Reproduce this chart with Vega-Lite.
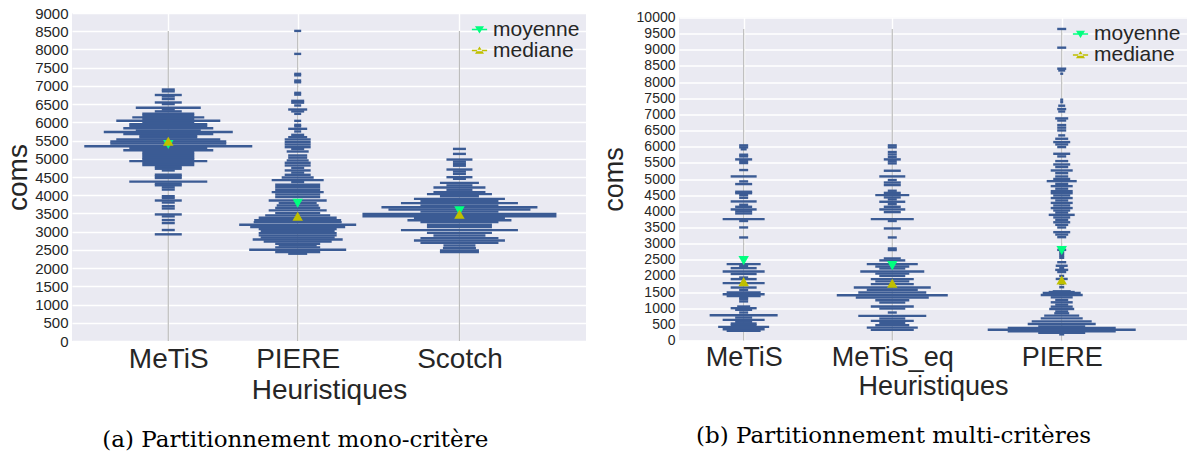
{
  "$schema": "https://vega.github.io/schema/vega-lite/v6.json",
  "background": "white",
  "padding": {"left": 4, "top": 6, "right": 0, "bottom": 0},
  "spacing": 14,
  "center": true,
  "config": {
    "view": {"fill": "#EAEAF2", "stroke": null},
    "axis": {"domain": false, "ticks": false, "gridColor": "white", "gridWidth": 1.4, "labelFont": "Liberation Sans", "titleFont": "Liberation Sans", "labelColor": "#262626", "titleColor": "#262626", "titleFontWeight": "normal", "labelOverlap": false, "labelFlush": false},
    "title": {"font": "DejaVu Serif", "fontSize": 23, "fontWeight": "normal", "color": "black", "orient": "bottom", "anchor": "middle", "frame": "bounds"},
    "legend": {"orient": "top-right", "offset": 3, "labelFont": "Liberation Sans", "labelFontSize": 21, "labelColor": "#262626", "symbolSize": 110, "symbolOpacity": 1, "symbolStrokeWidth": 0, "rowPadding": -2, "padding": 3, "labelOffset": 3}
  },
  "datasets": {
    "catsA": [{"h": "MeTiS", "pos": 1}, {"h": "PIERE", "pos": 2}, {"h": "Scotch", "pos": 3.25}],
    "catsB": [{"h": "MeTiS", "pos": 1}, {"h": "MeTiS_eq", "pos": 2}, {"h": "PIERE", "pos": 3.14}],
    "beansA": [
      {"h": "MeTiS", "v": 6900, "dens": 13}, {"h": "MeTiS", "v": 6850, "dens": 13}, {"h": "MeTiS", "v": 6750, "dens": 27}, {"h": "MeTiS", "v": 6710, "dens": 13}, {"h": "MeTiS", "v": 6640, "dens": 13}, {"h": "MeTiS", "v": 6545, "dens": 27}, {"h": "MeTiS", "v": 6500, "dens": 13}, {"h": "MeTiS", "v": 6400, "dens": 65}, {"h": "MeTiS", "v": 6350, "dens": 13}, {"h": "MeTiS", "v": 6300, "dens": 27}, {"h": "MeTiS", "v": 6235, "dens": 52}, {"h": "MeTiS", "v": 6180, "dens": 52}, {"h": "MeTiS", "v": 6136, "dens": 72}, {"h": "MeTiS", "v": 6090, "dens": 52}, {"h": "MeTiS", "v": 6045, "dens": 104}, {"h": "MeTiS", "v": 6000, "dens": 52}, {"h": "MeTiS", "v": 5950, "dens": 78}, {"h": "MeTiS", "v": 5900, "dens": 78}, {"h": "MeTiS", "v": 5836, "dens": 90}, {"h": "MeTiS", "v": 5780, "dens": 65}, {"h": "MeTiS", "v": 5736, "dens": 129}, {"h": "MeTiS", "v": 5680, "dens": 90}, {"h": "MeTiS", "v": 5630, "dens": 58}, {"h": "MeTiS", "v": 5580, "dens": 58}, {"h": "MeTiS", "v": 5527, "dens": 104}, {"h": "MeTiS", "v": 5473, "dens": 116}, {"h": "MeTiS", "v": 5420, "dens": 116}, {"h": "MeTiS", "v": 5345, "dens": 168}, {"h": "MeTiS", "v": 5290, "dens": 78}, {"h": "MeTiS", "v": 5236, "dens": 90}, {"h": "MeTiS", "v": 5180, "dens": 52}, {"h": "MeTiS", "v": 5127, "dens": 52}, {"h": "MeTiS", "v": 5075, "dens": 52}, {"h": "MeTiS", "v": 5020, "dens": 52}, {"h": "MeTiS", "v": 4980, "dens": 52}, {"h": "MeTiS", "v": 4936, "dens": 78}, {"h": "MeTiS", "v": 4880, "dens": 52}, {"h": "MeTiS", "v": 4830, "dens": 52}, {"h": "MeTiS", "v": 4780, "dens": 27}, {"h": "MeTiS", "v": 4727, "dens": 27}, {"h": "MeTiS", "v": 4680, "dens": 13}, {"h": "MeTiS", "v": 4564, "dens": 27}, {"h": "MeTiS", "v": 4520, "dens": 27}, {"h": "MeTiS", "v": 4473, "dens": 27}, {"h": "MeTiS", "v": 4373, "dens": 78}, {"h": "MeTiS", "v": 4320, "dens": 27}, {"h": "MeTiS", "v": 4273, "dens": 27}, {"h": "MeTiS", "v": 4218, "dens": 13}, {"h": "MeTiS", "v": 4155, "dens": 13}, {"h": "MeTiS", "v": 3973, "dens": 13}, {"h": "MeTiS", "v": 3920, "dens": 13}, {"h": "MeTiS", "v": 3855, "dens": 27}, {"h": "MeTiS", "v": 3800, "dens": 13}, {"h": "MeTiS", "v": 3700, "dens": 13}, {"h": "MeTiS", "v": 3636, "dens": 13}, {"h": "MeTiS", "v": 3473, "dens": 27}, {"h": "MeTiS", "v": 3420, "dens": 13}, {"h": "MeTiS", "v": 3318, "dens": 13}, {"h": "MeTiS", "v": 3236, "dens": 13}, {"h": "MeTiS", "v": 3045, "dens": 13}, {"h": "MeTiS", "v": 2927, "dens": 27},
      {"h": "PIERE", "v": 8509, "dens": 7}, {"h": "PIERE", "v": 7878, "dens": 7}, {"h": "PIERE", "v": 7330, "dens": 7}, {"h": "PIERE", "v": 7290, "dens": 7}, {"h": "PIERE", "v": 7147, "dens": 7}, {"h": "PIERE", "v": 7100, "dens": 7}, {"h": "PIERE", "v": 6809, "dens": 7}, {"h": "PIERE", "v": 6760, "dens": 7}, {"h": "PIERE", "v": 6590, "dens": 13}, {"h": "PIERE", "v": 6540, "dens": 13}, {"h": "PIERE", "v": 6462, "dens": 7}, {"h": "PIERE", "v": 6352, "dens": 19}, {"h": "PIERE", "v": 6300, "dens": 13}, {"h": "PIERE", "v": 6233, "dens": 7}, {"h": "PIERE", "v": 6041, "dens": 7}, {"h": "PIERE", "v": 5931, "dens": 7}, {"h": "PIERE", "v": 5890, "dens": 7}, {"h": "PIERE", "v": 5822, "dens": 19}, {"h": "PIERE", "v": 5750, "dens": 7}, {"h": "PIERE", "v": 5657, "dens": 13}, {"h": "PIERE", "v": 5593, "dens": 19}, {"h": "PIERE", "v": 5530, "dens": 26}, {"h": "PIERE", "v": 5456, "dens": 26}, {"h": "PIERE", "v": 5390, "dens": 26}, {"h": "PIERE", "v": 5319, "dens": 26}, {"h": "PIERE", "v": 5270, "dens": 13}, {"h": "PIERE", "v": 5200, "dens": 22}, {"h": "PIERE", "v": 5091, "dens": 19}, {"h": "PIERE", "v": 5030, "dens": 19}, {"h": "PIERE", "v": 4954, "dens": 22}, {"h": "PIERE", "v": 4890, "dens": 26}, {"h": "PIERE", "v": 4817, "dens": 26}, {"h": "PIERE", "v": 4750, "dens": 13}, {"h": "PIERE", "v": 4680, "dens": 26}, {"h": "PIERE", "v": 4620, "dens": 13}, {"h": "PIERE", "v": 4560, "dens": 26}, {"h": "PIERE", "v": 4488, "dens": 32}, {"h": "PIERE", "v": 4414, "dens": 52}, {"h": "PIERE", "v": 4360, "dens": 13}, {"h": "PIERE", "v": 4286, "dens": 45}, {"h": "PIERE", "v": 4220, "dens": 45}, {"h": "PIERE", "v": 4149, "dens": 45}, {"h": "PIERE", "v": 4085, "dens": 52}, {"h": "PIERE", "v": 4020, "dens": 45}, {"h": "PIERE", "v": 3948, "dens": 45}, {"h": "PIERE", "v": 3857, "dens": 58}, {"h": "PIERE", "v": 3784, "dens": 38}, {"h": "PIERE", "v": 3720, "dens": 42}, {"h": "PIERE", "v": 3650, "dens": 45}, {"h": "PIERE", "v": 3583, "dens": 58}, {"h": "PIERE", "v": 3510, "dens": 45}, {"h": "PIERE", "v": 3446, "dens": 65}, {"h": "PIERE", "v": 3382, "dens": 78}, {"h": "PIERE", "v": 3318, "dens": 87}, {"h": "PIERE", "v": 3263, "dens": 88}, {"h": "PIERE", "v": 3190, "dens": 117}, {"h": "PIERE", "v": 3126, "dens": 95}, {"h": "PIERE", "v": 3075, "dens": 78}, {"h": "PIERE", "v": 3025, "dens": 74}, {"h": "PIERE", "v": 2960, "dens": 78}, {"h": "PIERE", "v": 2897, "dens": 78}, {"h": "PIERE", "v": 2840, "dens": 74}, {"h": "PIERE", "v": 2787, "dens": 90}, {"h": "PIERE", "v": 2730, "dens": 68}, {"h": "PIERE", "v": 2669, "dens": 45}, {"h": "PIERE", "v": 2620, "dens": 38}, {"h": "PIERE", "v": 2568, "dens": 45}, {"h": "PIERE", "v": 2504, "dens": 97}, {"h": "PIERE", "v": 2440, "dens": 45}, {"h": "PIERE", "v": 2395, "dens": 19},
      {"h": "Scotch", "v": 5271, "dens": 13}, {"h": "Scotch", "v": 5134, "dens": 13}, {"h": "Scotch", "v": 4979, "dens": 26}, {"h": "Scotch", "v": 4920, "dens": 13}, {"h": "Scotch", "v": 4860, "dens": 13}, {"h": "Scotch", "v": 4810, "dens": 13}, {"h": "Scotch", "v": 4705, "dens": 26}, {"h": "Scotch", "v": 4650, "dens": 13}, {"h": "Scotch", "v": 4586, "dens": 13}, {"h": "Scotch", "v": 4495, "dens": 26}, {"h": "Scotch", "v": 4450, "dens": 13}, {"h": "Scotch", "v": 4339, "dens": 39}, {"h": "Scotch", "v": 4270, "dens": 26}, {"h": "Scotch", "v": 4211, "dens": 52}, {"h": "Scotch", "v": 4150, "dens": 26}, {"h": "Scotch", "v": 4083, "dens": 52}, {"h": "Scotch", "v": 4029, "dens": 65}, {"h": "Scotch", "v": 3970, "dens": 39}, {"h": "Scotch", "v": 3900, "dens": 91}, {"h": "Scotch", "v": 3840, "dens": 78}, {"h": "Scotch", "v": 3782, "dens": 117}, {"h": "Scotch", "v": 3720, "dens": 78}, {"h": "Scotch", "v": 3672, "dens": 156}, {"h": "Scotch", "v": 3608, "dens": 142}, {"h": "Scotch", "v": 3550, "dens": 78}, {"h": "Scotch", "v": 3489, "dens": 194}, {"h": "Scotch", "v": 3425, "dens": 194}, {"h": "Scotch", "v": 3370, "dens": 91}, {"h": "Scotch", "v": 3315, "dens": 104}, {"h": "Scotch", "v": 3261, "dens": 78}, {"h": "Scotch", "v": 3188, "dens": 65}, {"h": "Scotch", "v": 3130, "dens": 65}, {"h": "Scotch", "v": 3041, "dens": 117}, {"h": "Scotch", "v": 2968, "dens": 65}, {"h": "Scotch", "v": 2895, "dens": 52}, {"h": "Scotch", "v": 2822, "dens": 78}, {"h": "Scotch", "v": 2758, "dens": 91}, {"h": "Scotch", "v": 2694, "dens": 78}, {"h": "Scotch", "v": 2621, "dens": 32}, {"h": "Scotch", "v": 2548, "dens": 33}, {"h": "Scotch", "v": 2484, "dens": 39}, {"h": "Scotch", "v": 2438, "dens": 39}
    ],
    "statsA": [
      {"h": "MeTiS", "stat": "moyenne", "v": 5390}, {"h": "MeTiS", "stat": "mediane", "v": 5480},
      {"h": "PIERE", "stat": "moyenne", "v": 3782}, {"h": "PIERE", "stat": "mediane", "v": 3425},
      {"h": "Scotch", "stat": "moyenne", "v": 3571}, {"h": "Scotch", "stat": "mediane", "v": 3480}
    ],
    "beansB": [
      {"h": "MeTiS", "v": 6041, "dens": 9}, {"h": "MeTiS", "v": 5980, "dens": 9}, {"h": "MeTiS", "v": 5920, "dens": 6}, {"h": "MeTiS", "v": 5752, "dens": 9}, {"h": "MeTiS", "v": 5700, "dens": 9}, {"h": "MeTiS", "v": 5607, "dens": 17}, {"h": "MeTiS", "v": 5550, "dens": 9}, {"h": "MeTiS", "v": 5494, "dens": 9}, {"h": "MeTiS", "v": 5277, "dens": 9}, {"h": "MeTiS", "v": 5080, "dens": 26}, {"h": "MeTiS", "v": 4925, "dens": 9}, {"h": "MeTiS", "v": 4843, "dens": 17}, {"h": "MeTiS", "v": 4605, "dens": 17}, {"h": "MeTiS", "v": 4560, "dens": 17}, {"h": "MeTiS", "v": 4500, "dens": 9}, {"h": "MeTiS", "v": 4419, "dens": 9}, {"h": "MeTiS", "v": 4305, "dens": 26}, {"h": "MeTiS", "v": 4202, "dens": 9}, {"h": "MeTiS", "v": 4140, "dens": 17}, {"h": "MeTiS", "v": 4058, "dens": 26}, {"h": "MeTiS", "v": 4000, "dens": 17}, {"h": "MeTiS", "v": 3934, "dens": 17}, {"h": "MeTiS", "v": 3758, "dens": 42}, {"h": "MeTiS", "v": 3700, "dens": 9}, {"h": "MeTiS", "v": 3500, "dens": 9}, {"h": "MeTiS", "v": 3190, "dens": 9}, {"h": "MeTiS", "v": 2364, "dens": 34}, {"h": "MeTiS", "v": 2300, "dens": 9}, {"h": "MeTiS", "v": 2240, "dens": 26}, {"h": "MeTiS", "v": 2136, "dens": 42}, {"h": "MeTiS", "v": 2060, "dens": 26}, {"h": "MeTiS", "v": 1950, "dens": 9}, {"h": "MeTiS", "v": 1900, "dens": 26}, {"h": "MeTiS", "v": 1775, "dens": 42}, {"h": "MeTiS", "v": 1640, "dens": 26}, {"h": "MeTiS", "v": 1560, "dens": 9}, {"h": "MeTiS", "v": 1485, "dens": 34}, {"h": "MeTiS", "v": 1434, "dens": 42}, {"h": "MeTiS", "v": 1380, "dens": 34}, {"h": "MeTiS", "v": 1330, "dens": 9}, {"h": "MeTiS", "v": 1280, "dens": 9}, {"h": "MeTiS", "v": 1210, "dens": 9}, {"h": "MeTiS", "v": 1052, "dens": 13}, {"h": "MeTiS", "v": 1000, "dens": 26}, {"h": "MeTiS", "v": 950, "dens": 17}, {"h": "MeTiS", "v": 866, "dens": 9}, {"h": "MeTiS", "v": 783, "dens": 68}, {"h": "MeTiS", "v": 710, "dens": 17}, {"h": "MeTiS", "v": 638, "dens": 42}, {"h": "MeTiS", "v": 580, "dens": 17}, {"h": "MeTiS", "v": 525, "dens": 26}, {"h": "MeTiS", "v": 473, "dens": 26}, {"h": "MeTiS", "v": 421, "dens": 51}, {"h": "MeTiS", "v": 350, "dens": 42}, {"h": "MeTiS", "v": 300, "dens": 34},
      {"h": "MeTiS_eq", "v": 6041, "dens": 9}, {"h": "MeTiS_eq", "v": 5980, "dens": 9}, {"h": "MeTiS_eq", "v": 5835, "dens": 9}, {"h": "MeTiS_eq", "v": 5760, "dens": 9}, {"h": "MeTiS_eq", "v": 5680, "dens": 9}, {"h": "MeTiS_eq", "v": 5607, "dens": 17}, {"h": "MeTiS_eq", "v": 5550, "dens": 9}, {"h": "MeTiS_eq", "v": 5483, "dens": 9}, {"h": "MeTiS_eq", "v": 5256, "dens": 17}, {"h": "MeTiS_eq", "v": 5080, "dens": 26}, {"h": "MeTiS_eq", "v": 4967, "dens": 9}, {"h": "MeTiS_eq", "v": 4890, "dens": 17}, {"h": "MeTiS_eq", "v": 4812, "dens": 17}, {"h": "MeTiS_eq", "v": 4636, "dens": 9}, {"h": "MeTiS_eq", "v": 4570, "dens": 17}, {"h": "MeTiS_eq", "v": 4502, "dens": 34}, {"h": "MeTiS_eq", "v": 4430, "dens": 17}, {"h": "MeTiS_eq", "v": 4368, "dens": 9}, {"h": "MeTiS_eq", "v": 4295, "dens": 26}, {"h": "MeTiS_eq", "v": 4220, "dens": 9}, {"h": "MeTiS_eq", "v": 4140, "dens": 17}, {"h": "MeTiS_eq", "v": 4058, "dens": 26}, {"h": "MeTiS_eq", "v": 3975, "dens": 17}, {"h": "MeTiS_eq", "v": 3758, "dens": 43}, {"h": "MeTiS_eq", "v": 3700, "dens": 9}, {"h": "MeTiS_eq", "v": 3469, "dens": 17}, {"h": "MeTiS_eq", "v": 3190, "dens": 9}, {"h": "MeTiS_eq", "v": 2850, "dens": 9}, {"h": "MeTiS_eq", "v": 2800, "dens": 9}, {"h": "MeTiS_eq", "v": 2540, "dens": 17}, {"h": "MeTiS_eq", "v": 2480, "dens": 26}, {"h": "MeTiS_eq", "v": 2364, "dens": 51}, {"h": "MeTiS_eq", "v": 2290, "dens": 34}, {"h": "MeTiS_eq", "v": 2230, "dens": 26}, {"h": "MeTiS_eq", "v": 2136, "dens": 64}, {"h": "MeTiS_eq", "v": 2070, "dens": 34}, {"h": "MeTiS_eq", "v": 2000, "dens": 26}, {"h": "MeTiS_eq", "v": 1900, "dens": 43}, {"h": "MeTiS_eq", "v": 1830, "dens": 34}, {"h": "MeTiS_eq", "v": 1744, "dens": 43}, {"h": "MeTiS_eq", "v": 1640, "dens": 77}, {"h": "MeTiS_eq", "v": 1570, "dens": 51}, {"h": "MeTiS_eq", "v": 1485, "dens": 68}, {"h": "MeTiS_eq", "v": 1403, "dens": 111}, {"h": "MeTiS_eq", "v": 1330, "dens": 73}, {"h": "MeTiS_eq", "v": 1248, "dens": 34}, {"h": "MeTiS_eq", "v": 1176, "dens": 26}, {"h": "MeTiS_eq", "v": 1052, "dens": 43}, {"h": "MeTiS_eq", "v": 990, "dens": 26}, {"h": "MeTiS_eq", "v": 866, "dens": 9}, {"h": "MeTiS_eq", "v": 762, "dens": 68}, {"h": "MeTiS_eq", "v": 680, "dens": 26}, {"h": "MeTiS_eq", "v": 607, "dens": 43}, {"h": "MeTiS_eq", "v": 540, "dens": 26}, {"h": "MeTiS_eq", "v": 473, "dens": 34}, {"h": "MeTiS_eq", "v": 400, "dens": 51}, {"h": "MeTiS_eq", "v": 328, "dens": 43},
      {"h": "PIERE", "v": 9645, "dens": 9}, {"h": "PIERE", "v": 9066, "dens": 9}, {"h": "PIERE", "v": 8415, "dens": 9}, {"h": "PIERE", "v": 8360, "dens": 7}, {"h": "PIERE", "v": 8260, "dens": 3}, {"h": "PIERE", "v": 7455, "dens": 3}, {"h": "PIERE", "v": 7380, "dens": 3}, {"h": "PIERE", "v": 7269, "dens": 7}, {"h": "PIERE", "v": 7165, "dens": 9}, {"h": "PIERE", "v": 7090, "dens": 7}, {"h": "PIERE", "v": 6876, "dens": 13}, {"h": "PIERE", "v": 6810, "dens": 9}, {"h": "PIERE", "v": 6670, "dens": 9}, {"h": "PIERE", "v": 6590, "dens": 9}, {"h": "PIERE", "v": 6504, "dens": 9}, {"h": "PIERE", "v": 6350, "dens": 7}, {"h": "PIERE", "v": 6246, "dens": 13}, {"h": "PIERE", "v": 6143, "dens": 17}, {"h": "PIERE", "v": 6070, "dens": 13}, {"h": "PIERE", "v": 5988, "dens": 9}, {"h": "PIERE", "v": 5781, "dens": 17}, {"h": "PIERE", "v": 5700, "dens": 9}, {"h": "PIERE", "v": 5554, "dens": 13}, {"h": "PIERE", "v": 5450, "dens": 17}, {"h": "PIERE", "v": 5370, "dens": 13}, {"h": "PIERE", "v": 5264, "dens": 22}, {"h": "PIERE", "v": 5180, "dens": 13}, {"h": "PIERE", "v": 5078, "dens": 13}, {"h": "PIERE", "v": 5000, "dens": 17}, {"h": "PIERE", "v": 4934, "dens": 30}, {"h": "PIERE", "v": 4850, "dens": 13}, {"h": "PIERE", "v": 4779, "dens": 22}, {"h": "PIERE", "v": 4700, "dens": 13}, {"h": "PIERE", "v": 4624, "dens": 22}, {"h": "PIERE", "v": 4560, "dens": 22}, {"h": "PIERE", "v": 4490, "dens": 17}, {"h": "PIERE", "v": 4410, "dens": 22}, {"h": "PIERE", "v": 4335, "dens": 13}, {"h": "PIERE", "v": 4260, "dens": 22}, {"h": "PIERE", "v": 4180, "dens": 17}, {"h": "PIERE", "v": 4100, "dens": 22}, {"h": "PIERE", "v": 4025, "dens": 17}, {"h": "PIERE", "v": 3960, "dens": 13}, {"h": "PIERE", "v": 3890, "dens": 26}, {"h": "PIERE", "v": 3810, "dens": 17}, {"h": "PIERE", "v": 3736, "dens": 13}, {"h": "PIERE", "v": 3660, "dens": 17}, {"h": "PIERE", "v": 3581, "dens": 13}, {"h": "PIERE", "v": 3500, "dens": 9}, {"h": "PIERE", "v": 3354, "dens": 17}, {"h": "PIERE", "v": 3280, "dens": 13}, {"h": "PIERE", "v": 3199, "dens": 9}, {"h": "PIERE", "v": 2806, "dens": 9}, {"h": "PIERE", "v": 2740, "dens": 5}, {"h": "PIERE", "v": 2680, "dens": 5}, {"h": "PIERE", "v": 2620, "dens": 5}, {"h": "PIERE", "v": 2560, "dens": 5}, {"h": "PIERE", "v": 2424, "dens": 9}, {"h": "PIERE", "v": 2314, "dens": 12}, {"h": "PIERE", "v": 2250, "dens": 5}, {"h": "PIERE", "v": 2186, "dens": 13}, {"h": "PIERE", "v": 2120, "dens": 9}, {"h": "PIERE", "v": 2000, "dens": 5}, {"h": "PIERE", "v": 1906, "dens": 12}, {"h": "PIERE", "v": 1800, "dens": 5}, {"h": "PIERE", "v": 1750, "dens": 5}, {"h": "PIERE", "v": 1650, "dens": 5}, {"h": "PIERE", "v": 1523, "dens": 18}, {"h": "PIERE", "v": 1500, "dens": 26}, {"h": "PIERE", "v": 1471, "dens": 38}, {"h": "PIERE", "v": 1409, "dens": 42}, {"h": "PIERE", "v": 1337, "dens": 22}, {"h": "PIERE", "v": 1254, "dens": 13}, {"h": "PIERE", "v": 1182, "dens": 22}, {"h": "PIERE", "v": 1110, "dens": 13}, {"h": "PIERE", "v": 1048, "dens": 22}, {"h": "PIERE", "v": 975, "dens": 25}, {"h": "PIERE", "v": 900, "dens": 13}, {"h": "PIERE", "v": 841, "dens": 15}, {"h": "PIERE", "v": 769, "dens": 35}, {"h": "PIERE", "v": 686, "dens": 42}, {"h": "PIERE", "v": 593, "dens": 60}, {"h": "PIERE", "v": 510, "dens": 68}, {"h": "PIERE", "v": 438, "dens": 47}, {"h": "PIERE", "v": 387, "dens": 108}, {"h": "PIERE", "v": 335, "dens": 148}, {"h": "PIERE", "v": 283, "dens": 108}, {"h": "PIERE", "v": 242, "dens": 47}, {"h": "PIERE", "v": 190, "dens": 5}
    ],
    "statsB": [
      {"h": "MeTiS", "stat": "moyenne", "v": 2474}, {"h": "MeTiS", "stat": "mediane", "v": 1823},
      {"h": "MeTiS_eq", "stat": "moyenne", "v": 2319}, {"h": "MeTiS_eq", "stat": "mediane", "v": 1771},
      {"h": "PIERE", "stat": "moyenne", "v": 2784}, {"h": "PIERE", "stat": "mediane", "v": 1875}
    ]
  },
  "hconcat": [
    {
      "width": 514,
      "height": 328,
      "title": {"text": "(a) Partitionnement mono-critère", "offset": 25},
      "encoding": {
        "x": {"field": "pos", "type": "quantitative", "scale": {"domain": [0.256, 4.228], "nice": false, "zero": false},
          "axis": {"values": [1, 2, 3.25], "labelExpr": "datum.value == 1 ? 'MeTiS' : datum.value == 2 ? 'PIERE' : 'Scotch'", "labelFontSize": 28, "labelPadding": 4, "title": "Heuristiques", "titleFontSize": 28, "titlePadding": 3}},
        "y": {"field": "v", "type": "quantitative", "scale": {"domain": [0, 9000], "nice": false, "zero": true},
          "axis": {"values": [0, 500, 1000, 1500, 2000, 2500, 3000, 3500, 4000, 4500, 5000, 5500, 6000, 6500, 7000, 7500, 8000, 8500, 9000], "format": "d", "labelFontSize": 15, "labelPadding": 4, "title": "coms", "titleFontSize": 28, "titlePadding": 2}}
      },
      "layer": [
        {
          "data": {"name": "beansA"},
          "transform": [
            {"joinaggregate": [{"op": "max", "field": "v", "as": "top"}]},
            {"aggregate": [{"op": "max", "field": "top", "as": "v"}], "groupby": ["h"]},
            {"lookup": "h", "from": {"data": {"name": "catsA"}, "key": "h", "fields": ["pos"]}}
          ],
          "mark": {"type": "rule", "color": "#BDBDBD", "strokeWidth": 1.2},
          "encoding": {"y2": {"datum": 0}}
        },
        {
          "data": {"name": "beansA"},
          "transform": [{"lookup": "h", "from": {"data": {"name": "catsA"}, "key": "h", "fields": ["pos"]}}],
          "mark": {"type": "tick", "orient": "horizontal", "thickness": 2.4, "color": "#3B5B94", "opacity": 1},
          "encoding": {
            "size": {"field": "dens", "type": "quantitative", "scale": {"domain": [0, 200], "range": [0, 200]}, "legend": null}
          }
        },
        {
          "data": {"name": "statsA"},
          "transform": [{"lookup": "h", "from": {"data": {"name": "catsA"}, "key": "h", "fields": ["pos"]}}],
          "mark": {"type": "point", "filled": true, "opacity": 1, "size": 110},
          "encoding": {
            "shape": {"condition": {"test": "datum.stat == 'moyenne'", "value": "triangle-down"}, "value": "triangle-up"},
            "color": {"condition": {"test": "datum.stat == 'moyenne'", "value": "#00FF7F"}, "value": "#BFBF00"}
          }
        },
        {
          "data": {"name": "statsA"},
          "transform": [{"lookup": "h", "from": {"data": {"name": "catsA"}, "key": "h", "fields": ["pos"]}}],
          "mark": {"type": "point", "filled": true, "opacity": 0, "size": 110},
          "encoding": {
            "shape": {"field": "stat", "type": "nominal", "scale": {"domain": ["moyenne", "mediane"], "range": ["M-1.45,-0.12H1.45V0.12H-1.45ZM-0.86,-0.6H0.86L0,0.75Z", "M-1.45,-0.12H1.45V0.12H-1.45ZM-0.86,0.6H0.86L0,-0.75Z"]}, "legend": {"title": null}},
            "color": {"field": "stat", "type": "nominal", "scale": {"domain": ["moyenne", "mediane"], "range": ["#00FF7F", "#BFBF00"]}, "legend": {"title": null}}
          }
        }
      ]
    },
    {
      "width": 508,
      "height": 323,
      "title": {"text": "(b) Partitionnement multi-critères", "offset": 25},
      "encoding": {
        "x": {"field": "pos", "type": "quantitative", "scale": {"domain": [0.565, 3.983], "nice": false, "zero": false},
          "axis": {"values": [1, 2, 3.14], "labelExpr": "datum.value == 1 ? 'MeTiS' : datum.value == 2 ? 'MeTiS_eq' : 'PIERE'", "labelFontSize": 27, "labelPadding": 4, "title": "Heuristiques", "titleFontSize": 27, "titlePadding": 3}},
        "y": {"field": "v", "type": "quantitative", "scale": {"domain": [0, 10000], "nice": false, "zero": true},
          "axis": {"values": [0, 500, 1000, 1500, 2000, 2500, 3000, 3500, 4000, 4500, 5000, 5500, 6000, 6500, 7000, 7500, 8000, 8500, 9000, 9500, 10000], "format": "d", "labelFontSize": 14, "labelPadding": 4, "title": "coms", "titleFontSize": 27, "titlePadding": 8}}
      },
      "layer": [
        {
          "data": {"name": "beansB"},
          "transform": [
            {"joinaggregate": [{"op": "max", "field": "v", "as": "top"}]},
            {"aggregate": [{"op": "max", "field": "top", "as": "v"}], "groupby": ["h"]},
            {"lookup": "h", "from": {"data": {"name": "catsB"}, "key": "h", "fields": ["pos"]}}
          ],
          "mark": {"type": "rule", "color": "#BDBDBD", "strokeWidth": 1.2},
          "encoding": {"y2": {"datum": 0}}
        },
        {
          "data": {"name": "beansB"},
          "transform": [{"lookup": "h", "from": {"data": {"name": "catsB"}, "key": "h", "fields": ["pos"]}}],
          "mark": {"type": "tick", "orient": "horizontal", "thickness": 2.4, "color": "#3B5B94", "opacity": 1},
          "encoding": {
            "size": {"field": "dens", "type": "quantitative", "scale": {"domain": [0, 200], "range": [0, 200]}, "legend": null}
          }
        },
        {
          "data": {"name": "statsB"},
          "transform": [{"lookup": "h", "from": {"data": {"name": "catsB"}, "key": "h", "fields": ["pos"]}}],
          "mark": {"type": "point", "filled": true, "opacity": 1, "size": 110},
          "encoding": {
            "shape": {"condition": {"test": "datum.stat == 'moyenne'", "value": "triangle-down"}, "value": "triangle-up"},
            "color": {"condition": {"test": "datum.stat == 'moyenne'", "value": "#00FF7F"}, "value": "#BFBF00"}
          }
        },
        {
          "data": {"name": "statsB"},
          "transform": [{"lookup": "h", "from": {"data": {"name": "catsB"}, "key": "h", "fields": ["pos"]}}],
          "mark": {"type": "point", "filled": true, "opacity": 0, "size": 110},
          "encoding": {
            "shape": {"field": "stat", "type": "nominal", "scale": {"domain": ["moyenne", "mediane"], "range": ["M-1.45,-0.12H1.45V0.12H-1.45ZM-0.86,-0.6H0.86L0,0.75Z", "M-1.45,-0.12H1.45V0.12H-1.45ZM-0.86,0.6H0.86L0,-0.75Z"]}, "legend": {"title": null}},
            "color": {"field": "stat", "type": "nominal", "scale": {"domain": ["moyenne", "mediane"], "range": ["#00FF7F", "#BFBF00"]}, "legend": {"title": null}}
          }
        }
      ]
    }
  ],
  "resolve": {"scale": {"shape": "independent", "color": "independent", "size": "independent"}}
}
